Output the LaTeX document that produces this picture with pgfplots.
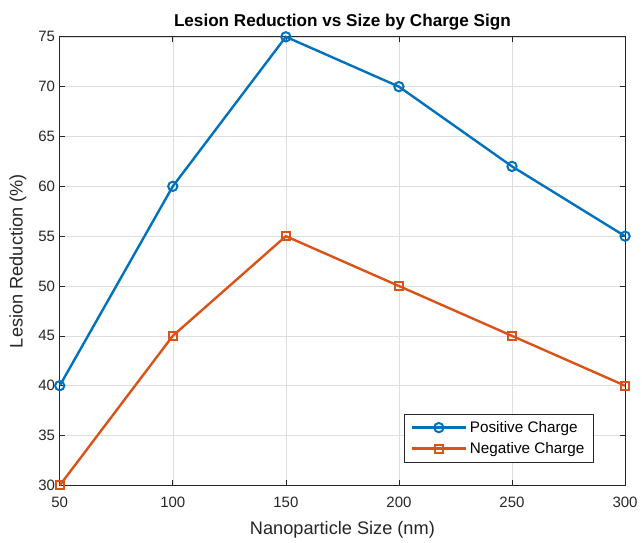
\documentclass[border=0pt]{standalone}
\usepackage{fontspec}
\setmainfont{Liberation Sans}
\usepackage{pgfplots}
\pgfplotsset{compat=1.18}
\definecolor{mblue}{RGB}{0,114,189}
\definecolor{morange}{RGB}{217,83,25}
\definecolor{axgray}{RGB}{38,38,38}
\begin{document}
\begin{tikzpicture}
\begin{axis}[
    name=ax,
    scale only axis,
    width=426pt, height=338pt,
    xmin=50, xmax=300,
    ymin=30, ymax=75,
    xtick={50,100,...,300},
    ytick={30,35,...,75},
    grid=major,
    major grid style={draw=black!13, line width=0.4pt},
    axis line style={axgray, line width=0.5pt},
    tick style={axgray, line width=0.5pt},
    tick align=inside,
    major tick length=4pt,
    tick label style={font=\fontsize{11.3}{13}\selectfont, text=axgray},
    xticklabel style={anchor=base, yshift=-17pt},
    /pgf/number format/assume math mode=true,
    xlabel={Nanoparticle Size (nm)},
    ylabel={Lesion Reduction (\%)},
    every axis x label/.style={at={(axis description cs:0.5,0)}, anchor=base, yshift=-37pt},
    every axis y label/.style={at={(axis description cs:0,0.5)}, anchor=center, xshift=-31.5pt, rotate=90},
    label style={font=\fontsize{13.7}{16}\selectfont, text=axgray},
    title={Lesion Reduction vs Size by Charge Sign},
    every axis title/.style={at={(axis description cs:0.5,1)}, anchor=base, yshift=7.5pt},
    title style={font=\bfseries\fontsize{12.9}{15}\selectfont},
    legend style={at={(0.945,0.052)}, anchor=south east, draw=axgray,
        font=\fontsize{11.5}{13}\selectfont, cells={anchor=west},
        inner xsep=5pt, inner ysep=3pt, row sep=2pt},
    legend cell align=left,
    legend image code/.code={%
        \draw[mark repeat=2, mark phase=2, #1]
        plot coordinates {(0cm,0cm) (0.72cm,0cm) (1.44cm,0cm)};},
    clip=false,
]
\addplot[mblue, line width=1.8pt, mark=o, mark size=3.5pt,
    mark options={line width=1.5pt}] coordinates {
    (50,40) (100,60) (150,75) (200,70) (250,62) (300,55)
};
\addlegendentry{Positive Charge}
\addplot[morange, line width=1.8pt, mark=square, mark size=3.1pt,
    mark options={line width=1.5pt}] coordinates {
    (50,30) (100,45) (150,55) (200,50) (250,45) (300,40)
};
\addlegendentry{Negative Charge}
\end{axis}
\path (ax.south west) ++(-45pt,-42pt) coordinate (bbA);
\path (ax.north east) ++(10.5pt,27.75pt) coordinate (bbB);
\path (bbA) rectangle (bbB);
\end{tikzpicture}
\end{document}
